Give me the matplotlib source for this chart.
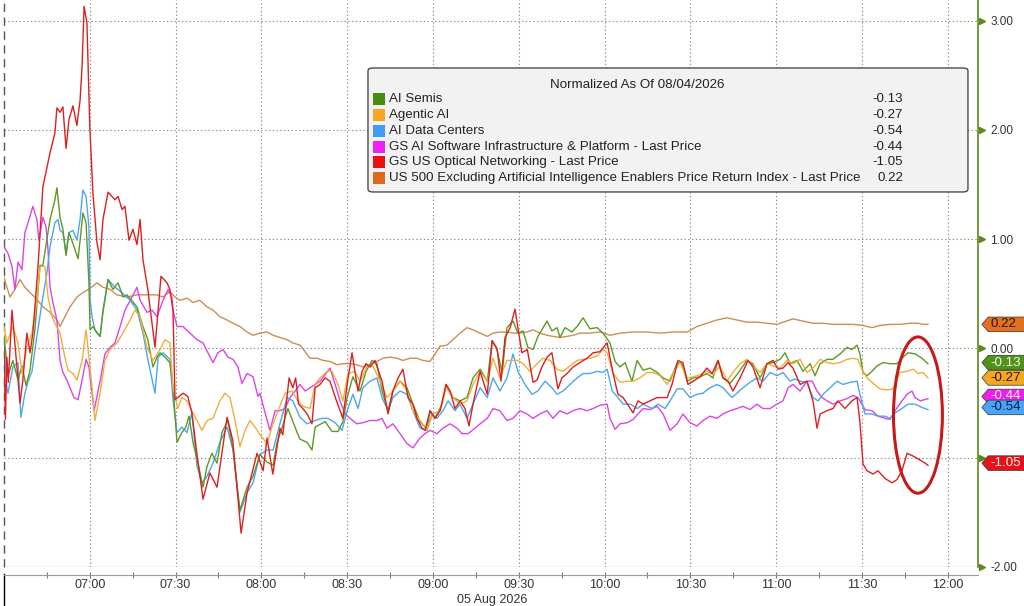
import numpy as np
import pandas as pd
import matplotlib
matplotlib.use("Agg")
import matplotlib.pyplot as plt
import matplotlib.dates as mdates
import matplotlib.transforms as mtransforms
from matplotlib.patches import Polygon, FancyBboxPatch, Rectangle, Ellipse

# minutes after 06:30 on 05 Aug 2026, and normalized values
semis_t = [0, 1.4, 3.1, 4.9, 6.3, 7.7, 9.1, 10.8, 12.6, 13.6,
           16.1, 17.8, 18.5, 19.6, 20.6, 21.7, 22.7, 24.1, 25.9, 26.9,
           27.6, 28.7, 29.7, 30.1, 31.1, 32.5, 33.6, 34.6, 36.4, 38.1,
           39.9, 41.6, 43, 46.5, 48.6, 50.3, 52.1, 53.5, 54.6, 56.3,
           58, 59.1, 60.5, 62.2, 63.6, 64.7, 66.1, 67.8, 69.6, 71,
           72.7, 74.5, 76.2, 78.3, 80.1, 82.5, 85, 87.1, 89.5, 92,
           94.1, 95.5, 97.2, 99.3, 102.5, 103.5, 106, 107.7, 108.8, 112.3,
           114.7, 116.8, 118.5, 120, 122, 124.5, 126.6, 128.7, 130.4, 132.2,
           134.3, 136, 138.5, 140.9, 143, 145.5, 147.9, 149, 150.7, 153.2,
           154.6, 157, 159.5, 161.9, 164, 166.5, 169, 170.7, 172.4, 174.2,
           175.9, 178, 179.7, 181.5, 183.2, 185, 186.7, 189.9, 191.6, 193.4,
           194.4, 196.2, 198.6, 200.7, 202.5, 204.9, 207.4, 209.5, 211.9, 213.7,
           215.4, 217.2, 219.6, 221.4, 223.5, 225.9, 228.4, 230.5, 232.9, 235.4,
           237.1, 238.9, 241, 243.4, 245.8, 247.9, 249.7, 251.4, 253.9, 256.3,
           259.8, 261.9, 264.4, 266.8, 268.9, 271.4, 273.1, 274.9, 277.3, 279.4,
           281.9, 283.6, 285.4, 287.8, 289.9, 292.4, 294.8, 296.5, 298.3, 299.3,
           300.4, 301.8, 303.5, 305.3, 307.4, 309.8, 312.3, 314, 316.1, 318.6,
           321, 323.1]
semis_v = [0.12, -0.25, -0.11, -0.29, -0.16, -0.34, -0.20, 0.17, 0.76, 0.76,
           1.18, 1.36, 1.47, 1.20, 1.09, 0.85, 1.06, 0.96, 0.82, 1.06,
           1.24, 1.15, 0.60, 0.17, 0.20, 0.14, 0.11, 0.33, 0.63, 0.54,
           0.60, 0.47, 0.49, 0.38, 0.20, 0.08, -0.17, -0.08, -0.04, -0.08,
           -0.13, -0.35, -0.86, -0.77, -0.72, -0.62, -0.86, -1.05, -1.27, -1.08,
           -0.96, -1.05, -0.77, -0.66, -0.93, -1.48, -1.27, -1.17, -0.97, -1.04,
           -1.07, -0.86, -0.73, -0.55, -0.77, -0.83, -0.86, -0.93, -0.72, -0.67,
           -0.76, -0.76, -0.67, -0.45, -0.26, -0.39, -0.21, -0.11, -0.14, -0.39,
           -0.57, -0.39, -0.30, -0.36, -0.51, -0.67, -0.74, -0.57, -0.64, -0.51,
           -0.33, -0.45, -0.48, -0.45, -0.27, -0.19, -0.30, 0.07, -0.01, -0.22,
           0.19, 0.25, 0.14, 0.16, 0.01, -0.01, 0.11, 0.25, 0.16, 0.19,
           0.10, 0.19, 0.15, 0.21, 0.28, 0.18, 0.19, 0.14, 0.05, -0.12,
           -0.17, -0.13, -0.30, -0.11, -0.20, -0.18, -0.22, -0.27, -0.30, -0.13,
           -0.14, -0.30, -0.27, -0.26, -0.23, -0.27, -0.11, -0.27, -0.32, -0.24,
           -0.11, -0.14, -0.27, -0.14, -0.13, -0.10, -0.04, -0.14, -0.11, -0.21,
           -0.14, -0.25, -0.14, -0.10, -0.10, -0.05, 0.01, -0.01, 0.03, -0.05,
           -0.22, -0.25, -0.21, -0.16, -0.13, -0.14, -0.14, -0.09, -0.04, -0.05,
           -0.09, -0.14]

agentic_t = [0, 1, 3.1, 4.9, 6.3, 8, 9.8, 11.5, 12.6, 14.3,
             15.4, 16.8, 17.8, 19.6, 21.3, 22.4, 24.1, 25.5, 27.3, 28.7,
             29.4, 30.8, 31.8, 33.6, 35.3, 37.1, 39.5, 41.6, 44.1, 45.8,
             47.6, 50, 52.1, 54.6, 56.3, 58, 59.1, 60.8, 62.2, 64,
             65.7, 67.5, 69.2, 71, 73.1, 75.5, 77.3, 79, 80.8, 82.5,
             84.3, 86, 87.8, 89.5, 92, 93.7, 95.8, 98.3, 100.7, 102.8,
             104.6, 107, 108.8, 110.5, 113, 114.7, 116.8, 118.5, 120.3, 122.7,
             124.5, 126.9, 129, 131.5, 133.9, 136, 138.5, 140.9, 143, 145.5,
             147.9, 150, 152.5, 154.6, 157, 159.5, 161.9, 164, 166.5, 169,
             171, 173.4, 175.9, 178, 179.7, 181.5, 183.9, 186.4, 188.5, 190.9,
             193.4, 195.5, 197.9, 200.4, 202.5, 204.9, 207.4, 209.5, 210.9, 213,
             215.4, 217.9, 220, 222.4, 224.9, 227, 229.4, 231.9, 234, 236.4,
             238.9, 241, 243.4, 245.8, 247.9, 250.4, 252.8, 254.9, 257.4, 259.8,
             261.9, 264.4, 266.8, 268.9, 271.4, 273.8, 275.9, 278.4, 280.8, 282.9,
             285.4, 287.8, 289.9, 292.4, 294.8, 296.9, 298.6, 300, 301.8, 303.9,
             306.3, 308.8, 310.9, 313.3, 315.8, 317.9, 319.6, 321.4, 323.1]
agentic_v = [0.20, 0.05, 0.20, 0.05, -0.23, 0.01, 0.14, 0.44, 0.75, 0.75,
             0.47, 0.29, 0.23, 0.14, -0.08, -0.20, -0.23, -0.29, -0.11, 0.17,
             -0.01, -0.36, -0.66, -0.41, -0.11, -0.01, 0.05, 0.14, 0.26, 0.35,
             0.29, 0.01, -0.11, -0.01, 0.08, 0.05, -0.36, -0.55, -0.45, -0.48,
             -0.57, -0.66, -0.75, -0.66, -0.64, -0.48, -0.41, -0.45, -0.66, -0.90,
             -0.75, -0.66, -0.72, -0.79, -0.87, -0.72, -0.57, -0.41, -0.39, -0.48,
             -0.53, -0.55, -0.33, -0.27, -0.21, -0.21, -0.33, -0.48, -0.23, -0.21,
             -0.30, -0.17, -0.16, -0.30, -0.45, -0.39, -0.30, -0.39, -0.57, -0.66,
             -0.74, -0.60, -0.57, -0.36, -0.45, -0.51, -0.48, -0.33, -0.21, -0.30,
             -0.09, -0.27, -0.11, -0.11, -0.11, -0.14, -0.21, -0.14, -0.09, -0.11,
             -0.19, -0.21, -0.16, -0.11, -0.10, -0.09, -0.07, -0.01, -0.04, -0.23,
             -0.31, -0.30, -0.30, -0.27, -0.22, -0.22, -0.25, -0.33, -0.22, -0.13,
             -0.27, -0.26, -0.24, -0.21, -0.24, -0.16, -0.30, -0.22, -0.14, -0.10,
             -0.16, -0.22, -0.14, -0.16, -0.18, -0.11, -0.14, -0.10, -0.22, -0.18,
             -0.10, -0.13, -0.14, -0.13, -0.10, -0.09, -0.10, -0.19, -0.27, -0.32,
             -0.37, -0.38, -0.37, -0.22, -0.21, -0.19, -0.23, -0.22, -0.27]

datacenter_t = [0, 1, 1.4, 3.1, 4.9, 5.9, 7.3, 8.4, 9.8, 11.5,
                13.3, 15, 16.1, 17.8, 18.9, 19.6, 20.6, 21.7, 22.7, 24.1,
                25.5, 26.6, 27.6, 28.7, 29.7, 30.1, 30.8, 31.8, 33.6, 34.6,
                36.4, 38.8, 41.3, 44.1, 46.5, 48.6, 50.3, 52.8, 53.9, 55.6,
                58, 59.1, 60.5, 62.2, 64, 65.7, 67.5, 69.2, 71, 73.1,
                75.5, 78, 80.1, 82.5, 85, 87.1, 89.5, 92, 94.1, 96.5,
                99, 101, 103.5, 106, 108.8, 111.2, 113.3, 115.8, 118.2, 120,
                122, 123.8, 125.5, 128, 130.4, 132.2, 134.3, 136, 138.5, 140.9,
                143, 145.5, 147.9, 149.7, 151.4, 153.5, 155.3, 157.7, 159.5, 161.9,
                164, 166.5, 169, 171, 173.4, 175.9, 178, 179.7, 182.2, 184.6,
                186.7, 189.2, 191.6, 193.4, 195.5, 197.9, 200.4, 202.5, 204.9, 207.4,
                209.5, 210.9, 212.7, 214.7, 216.5, 219, 221.4, 223.5, 226.6, 228.7,
                231.2, 232.9, 235.4, 237.4, 239.9, 242.3, 244.4, 246.9, 249.3, 251.4,
                254.6, 256.3, 258.4, 260.9, 263.3, 265.4, 267.9, 270.3, 272.4, 274.9,
                276.6, 278.4, 280.8, 282.9, 284.7, 286.4, 288.9, 291.3, 293.4, 295.9,
                298.3, 299.3, 301.1, 303.5, 305.6, 308.1, 309.8, 311.6, 314, 316.1,
                318.6, 321, 323.1]
datacenter_v = [0.08, -0.36, -0.41, -0.17, -0.13, -0.63, -0.41, -0.30, -0.21, 0.11,
                0.42, 0.69, 0.93, 1.15, 1.18, 1.08, 1.06, 0.87, 1.06, 1.08,
                0.99, 1.18, 1.45, 1.39, 1.11, 0.44, 0.29, 0.17, 0.11, 0.35,
                0.63, 0.56, 0.51, 0.44, 0.35, 0.14, -0.10, -0.41, -0.08, -0.04,
                -0.10, -0.47, -0.77, -0.72, -0.77, -0.59, -1.08, -1.23, -1.17, -1.05,
                -0.86, -0.72, -0.93, -1.50, -1.32, -1.23, -0.97, -0.93, -0.93, -0.69,
                -0.45, -0.48, -0.63, -0.69, -0.66, -0.64, -0.64, -0.68, -0.75, -0.57,
                -0.42, -0.55, -0.36, -0.30, -0.27, -0.45, -0.57, -0.45, -0.39, -0.42,
                -0.57, -0.73, -0.75, -0.60, -0.64, -0.57, -0.48, -0.57, -0.51, -0.64,
                -0.51, -0.36, -0.45, -0.27, -0.39, -0.27, -0.05, -0.21, -0.33, -0.42,
                -0.39, -0.30, -0.36, -0.42, -0.39, -0.33, -0.27, -0.23, -0.23, -0.21,
                -0.22, -0.19, -0.39, -0.45, -0.51, -0.51, -0.55, -0.51, -0.55, -0.51,
                -0.55, -0.48, -0.37, -0.37, -0.45, -0.42, -0.41, -0.36, -0.33, -0.36,
                -0.45, -0.41, -0.36, -0.31, -0.27, -0.30, -0.22, -0.25, -0.22, -0.30,
                -0.28, -0.30, -0.31, -0.45, -0.48, -0.42, -0.36, -0.30, -0.33, -0.31,
                -0.30, -0.42, -0.60, -0.60, -0.62, -0.62, -0.64, -0.59, -0.55, -0.51,
                -0.51, -0.54, -0.56]

software_t = [0, 1.4, 2.8, 3.8, 4.9, 6.3, 7.3, 8.4, 10.1, 11.5,
              12.2, 13.6, 14.7, 15.4, 16.1, 17.1, 18.5, 19.6, 20.6, 22,
              23.1, 24.5, 25.9, 27.3, 28.7, 29.7, 31.5, 33.6, 35.3, 37.1,
              38.8, 40.6, 42.3, 44.8, 46.5, 47.6, 50, 51.8, 53.5, 55.6,
              57.4, 58.7, 59.1, 60.5, 62.6, 65, 67.5, 69.6, 71.3, 73.1,
              74.8, 76.6, 78.3, 80.1, 81.8, 83.2, 85, 87.1, 88.8, 89.5,
              91.3, 93, 94.8, 96.5, 98.3, 100, 101.8, 103.5, 105.3, 107,
              108.8, 110.5, 112.3, 114, 115.8, 117.5, 119.3, 121, 123.4, 125.5,
              128, 130.4, 132.2, 133.9, 136, 138.5, 140.9, 143, 145.5, 147.2,
              149, 151.4, 153.5, 156, 158.4, 160.2, 162.3, 164.7, 166.5, 169,
              171, 173.4, 175.9, 178, 180.4, 182.9, 185, 187.4, 189.9, 192,
              194.4, 196.9, 199, 201.4, 203.9, 206, 208.4, 210.9, 211.9, 213.7,
              215.4, 217.9, 220, 221.7, 223.5, 225.9, 228.4, 230.5, 232.9, 235.4,
              237.4, 239.9, 242.3, 244.4, 246.9, 249.3, 251.4, 253.9, 256.3, 258.4,
              260.9, 263.3, 265.4, 267.9, 270.3, 272.4, 274.2, 275.9, 278.4, 280.8,
              282.6, 284.3, 286.1, 287.8, 289.9, 292.4, 294.8, 296.9, 298.6, 300,
              301.1, 303.5, 305.6, 308.1, 309.8, 311.6, 314, 315.8, 317.5, 318.6,
              320.4, 323.1]
software_v = [0.93, 0.87, 0.75, 0.54, 0.79, 0.72, 1.06, 1.15, 1.30, 1.18,
              0.99, 1.20, 1.11, 0.90, 0.56, 0.42, 0.26, -0.11, -0.22, -0.29,
              -0.36, -0.45, -0.47, -0.29, -0.10, -0.17, -0.57, -0.30, -0.05, 0.01,
              0.05, 0.20, 0.35, 0.47, 0.56, 0.44, 0.33, 0.35, 0.29, 0.44,
              0.54, 0.47, 0.35, 0.20, 0.20, 0.14, 0.08, 0.05, -0.04, -0.13,
              -0.04, -0.01, -0.08, -0.10, -0.17, -0.32, -0.23, -0.26, -0.44, -0.41,
              -0.59, -0.75, -0.57, -0.57, -0.55, -0.45, -0.39, -0.33, -0.39, -0.36,
              -0.33, -0.30, -0.24, -0.18, -0.33, -0.48, -0.60, -0.64, -0.69, -0.68,
              -0.66, -0.66, -0.64, -0.73, -0.69, -0.78, -0.87, -0.91, -0.82, -0.78,
              -0.75, -0.78, -0.73, -0.69, -0.73, -0.78, -0.78, -0.73, -0.69, -0.64,
              -0.55, -0.57, -0.66, -0.64, -0.57, -0.60, -0.64, -0.60, -0.57, -0.64,
              -0.57, -0.60, -0.57, -0.55, -0.57, -0.55, -0.52, -0.51, -0.64, -0.74,
              -0.69, -0.68, -0.65, -0.60, -0.55, -0.56, -0.53, -0.60, -0.75, -0.69,
              -0.60, -0.68, -0.71, -0.66, -0.62, -0.64, -0.60, -0.57, -0.55, -0.53,
              -0.56, -0.51, -0.55, -0.55, -0.51, -0.48, -0.36, -0.33, -0.39, -0.30,
              -0.30, -0.39, -0.45, -0.48, -0.51, -0.48, -0.46, -0.43, -0.45, -0.51,
              -0.56, -0.57, -0.62, -0.64, -0.65, -0.57, -0.48, -0.42, -0.39, -0.45,
              -0.48, -0.46]

optical_t = [0, 0.5, 1, 1.5, 2.8, 3.8, 5.6, 6.6, 8, 9.1,
             10.1, 11.9, 13.6, 16.1, 17.8, 18.5, 19.6, 20.6, 21.7, 22.7,
             24.1, 25.5, 26.6, 27.3, 28, 29, 30, 31.1, 32.5, 33.6,
             34.6, 36.4, 38.8, 39.9, 41.3, 42.3, 43.7, 45.1, 46.5, 47.6,
             48.6, 50.3, 52.8, 54.9, 57, 58, 59.1, 59.8, 62.6, 64.3,
             65.7, 67.5, 69.6, 72, 74.5, 78, 80, 82.9, 85, 88.5,
             90.6, 92, 94, 96.5, 97.5, 99.7, 101, 102, 103, 104.5,
             106, 107.7, 108.8, 110.5, 112.3, 114, 116, 118.5, 120, 121.7,
             122.7, 123.8, 125.2, 126.6, 128, 129.7, 132.2, 134.3, 136, 137.8,
             139.5, 141.3, 143, 144.4, 146.2, 147.2, 149, 150.7, 152.5, 154.6,
             156, 157.7, 159.5, 161.2, 162.6, 164, 166.5, 169, 170.7, 172.4,
             173.8, 175.2, 177, 178.7, 179.7, 181.1, 183, 185, 186.4, 188.1,
             189.9, 191.6, 193.7, 195.1, 196.9, 199, 201.4, 203.9, 206, 208.4,
             210.9, 213, 214.7, 216.5, 220, 221.7, 223.5, 225.9, 228.4, 231.9,
             233.6, 235.7, 237.4, 239.2, 241, 243.4, 245.8, 247.6, 249.7, 251.4,
             253.2, 254.9, 257.4, 260.2, 261.9, 264.4, 266.8, 268.9, 270.7, 272.4,
             274.2, 275.9, 278.4, 280.8, 282.9, 284.3, 285.4, 287.8, 289.9, 291.6,
             294.1, 296.5, 298.3, 299.3, 300.4, 301.8, 303.9, 305.6, 308.1, 310.5,
             312.3, 314, 315.8, 317.5, 319.6, 322.1, 323.1]
optical_v = [0.01, -0.65, -0.08, -0.31, 0.35, 0.05, -0.50, -0.29, 0.14, -0.04,
             0.14, 0.75, 1.48, 1.79, 1.97, 2.20, 2.16, 2.21, 1.83, 2.09,
             2.22, 2.04, 2.27, 2.58, 3.13, 2.98, 2.03, 1.42, 0.97, 0.81,
             1.18, 1.43, 1.36, 1.39, 1.27, 1.30, 0.99, 1.09, 0.95, 1.18,
             0.81, 0.54, 0.01, 0.66, 0.60, 0.54, 0.35, -0.47, -0.41, -0.44,
             -0.59, -0.97, -1.38, -1.14, -1.27, -0.63, -0.84, -1.69, -1.32, -0.96,
             -1.12, -0.82, -1.15, -0.73, -0.79, -0.27, -0.36, -0.27, -0.51, -0.55,
             -0.60, -0.69, -0.36, -0.33, -0.27, -0.30, -0.46, -0.64, -0.33, -0.04,
             -0.21, -0.39, -0.21, -0.14, -0.17, -0.11, -0.30, -0.60, -0.39, -0.27,
             -0.19, -0.45, -0.51, -0.64, -0.73, -0.75, -0.57, -0.64, -0.57, -0.33,
             -0.39, -0.55, -0.48, -0.55, -0.71, -0.51, -0.21, -0.42, 0.07, 0.00,
             -0.30, 0.10, 0.19, 0.36, 0.19, -0.04, -0.01, -0.31, -0.29, -0.17,
             -0.08, -0.04, -0.37, -0.27, -0.23, -0.17, -0.13, -0.09, -0.04, -0.03,
             0.05, -0.23, -0.42, -0.45, -0.59, -0.48, -0.51, -0.48, -0.45, -0.45,
             -0.33, -0.11, -0.13, -0.33, -0.30, -0.26, -0.18, -0.23, -0.11, -0.27,
             -0.30, -0.39, -0.27, -0.11, -0.17, -0.36, -0.14, -0.11, -0.19, -0.18,
             -0.13, -0.18, -0.33, -0.30, -0.48, -0.73, -0.60, -0.57, -0.55, -0.48,
             -0.55, -0.48, -0.45, -0.67, -1.06, -1.12, -1.15, -1.12, -1.19, -1.23,
             -1.20, -1.12, -0.96, -0.98, -1.01, -1.05, -1.07]

us500_t = [0, 1, 2.1, 3.8, 5.6, 7.3, 9.1, 11.5, 13.6, 16.1,
           18.5, 19.6, 21.3, 23.1, 25.5, 27.6, 30.1, 32.5, 34.6, 37.1,
           39.5, 43, 46.5, 50, 53.5, 55.6, 58, 59.8, 61.5, 64,
           66.1, 68.5, 71, 73.1, 75.5, 78, 80.1, 82.5, 85, 87.1,
           89.5, 92, 94.1, 96.5, 99, 101, 103.5, 105.3, 107, 109.5,
           111.6, 114, 116.5, 118.5, 121, 123.4, 125.5, 128, 130.4, 132.5,
           135, 137.4, 139.5, 142, 144.4, 146.5, 149, 150, 152.5, 154.9,
           157, 159.5, 161.9, 164, 166.5, 169, 171, 173.4, 175.9, 178,
           180.4, 182.9, 185, 187.4, 189.9, 192, 194.4, 196.9, 199, 201.4,
           204.9, 208.4, 211.9, 215.4, 220, 224.9, 229.4, 234, 238.9, 242.3,
           245.8, 249.3, 252.8, 256.3, 259.8, 263.3, 266.8, 270.3, 272.4, 275.9,
           279.4, 282.9, 286.4, 289.9, 293.4, 296.9, 300.4, 303.5, 306.3, 309.8,
           313.3, 316.8, 319.6, 321.4, 323.1]
us500_v = [0.65, 0.56, 0.47, 0.54, 0.63, 0.56, 0.51, 0.45, 0.38, 0.33,
           0.26, 0.20, 0.29, 0.38, 0.47, 0.51, 0.55, 0.60, 0.56, 0.54,
           0.49, 0.47, 0.49, 0.49, 0.49, 0.47, 0.52, 0.47, 0.44, 0.46,
           0.42, 0.44, 0.38, 0.35, 0.29, 0.26, 0.23, 0.20, 0.15, 0.12,
           0.14, 0.15, 0.12, 0.10, 0.08, 0.05, 0.03, -0.03, -0.09, -0.09,
           -0.11, -0.12, -0.15, -0.14, -0.14, -0.15, -0.17, -0.15, -0.12, -0.09,
           -0.08, -0.09, -0.11, -0.09, -0.09, -0.11, -0.12, -0.08, 0.02, 0.03,
           0.08, 0.14, 0.19, 0.17, 0.14, 0.11, 0.14, 0.15, 0.15, 0.14,
           0.14, 0.15, 0.17, 0.14, 0.12, 0.11, 0.10, 0.11, 0.12, 0.14,
           0.14, 0.15, 0.12, 0.14, 0.15, 0.15, 0.14, 0.15, 0.15, 0.20,
           0.23, 0.26, 0.28, 0.26, 0.24, 0.24, 0.23, 0.22, 0.24, 0.27,
           0.25, 0.23, 0.23, 0.22, 0.22, 0.22, 0.21, 0.19, 0.21, 0.22,
           0.22, 0.23, 0.23, 0.22, 0.22]

names = ["AI Semis", "Agentic AI", "AI Data Centers",
         "GS AI Software Infrastructure & Platform - Last Price",
         "GS US Optical Networking - Last Price",
         "US 500 Excluding Artificial Intelligence Enablers Price Return Index - Last Price"]
last_values = [-0.13, -0.27, -0.54, -0.44, -1.05, 0.22]
tick_labels = ["07:00", "07:30", "08:00", "08:30", "09:00", "09:30",
               "10:00", "10:30", "11:00", "11:30", "12:00"]
y_ticks = [-2, -1, 0, 1, 2, 3]

plt.rcParams['font.family'] = ['Liberation Sans', 'DejaVu Sans']
plt.rcParams['axes.unicode_minus'] = False

line_cols = ['#5c9a24', '#f0ae3c', '#4ea6ee', '#dc44e4', '#dc2020', '#cf8d52']
box_cols = ['#4a8c10', '#f7a823', '#3e9cf2', '#f020f0', '#e81010', '#e0681c']
tag_cols = ['#4f9418', '#f5a623', '#48a4f8', '#ee1fee', '#e8101a', '#e3701e']
tag_text = ['#f4f4f4', '#2a1a00', '#0a1a40', '#f4f4f4', '#f4f4f4', '#2b1400']

base = pd.Timestamp("2026-08-05 06:30")
def when(mins):
    return (base + pd.to_timedelta(mins, unit="m")).values

fig = plt.figure(figsize=(10.24, 6.06), dpi=100)
ax = fig.add_axes([4 / 1024, 0.0644, 974 / 1024, 0.9356])

series = [(semis_t, semis_v), (agentic_t, agentic_v), (datacenter_t, datacenter_v),
          (software_t, software_v), (optical_t, optical_v), (us500_t, us500_v)]
draw_order = [5, 3, 2, 0, 1, 4]
for n, i in enumerate(draw_order):
    t, v = series[i]
    ax.plot(when(t), v, color=line_cols[i], lw=1.0, zorder=3 + n * 0.1)

ax.set_xlim(base.to_pydatetime(), (base + pd.Timedelta(minutes=340.6)).to_pydatetime())
ax.set_ylim(-2.0, 3.188)

tick_pos = [pd.Timestamp("2026-08-05 " + s).to_pydatetime() for s in tick_labels]
ax.set_xticks(tick_pos)
ax.set_xticklabels(tick_labels)
ax.xaxis.set_minor_locator(mdates.MinuteLocator(byminute=[15, 45]))
ax.tick_params(axis='x', which='both', length=5, width=0.8, color='#777777',
               direction='inout', pad=0.5, labelsize=9, labelcolor='#333333')

ax.yaxis.tick_right()
ax.set_yticks(y_ticks)
ax.set_yticklabels(["" if y == -1 else "%.2f" % y for y in y_ticks])
ax.tick_params(axis='y', length=0, pad=9, labelsize=8.5, labelcolor='#333333')

for s in ['top', 'left']:
    ax.spines[s].set_visible(False)
ax.spines['bottom'].set_position(('outward', 6))
ax.spines['bottom'].set_color('#999999')
ax.spines['bottom'].set_linewidth(0.8)
ax.spines['right'].set_color('#5a8a1a')
ax.spines['right'].set_linewidth(1.2)
ax.spines['right'].set_bounds(-2.0, 3.188)

dots = (0, (1.2, 2.2))
ax.grid(axis='both', which='major', color='#8a8a8a', lw=0.8, ls=dots)
ax.axhline(-2.0, color='#999999', lw=1.0, ls=(0, (1, 1)), zorder=2)

# session start line
ax.axvline(base.to_pydatetime(), color='#555555', lw=1.0, ls=(0, (6, 4)), clip_on=False, zorder=2)
bt = mtransforms.blended_transform_factory(ax.transData, ax.transAxes)
ax.plot([base.to_pydatetime()] * 2, [-0.012, -0.075], color='black', lw=1.0,
        transform=bt, clip_on=False)
ax.text(0.5015, -0.0590, "05 Aug 2026", transform=ax.transAxes, ha='center', va='center',
        fontsize=9, color='#333333')

# right axis markers
rt = mtransforms.blended_transform_factory(ax.transAxes, ax.transData)
ax.plot([1.004] * len(y_ticks), y_ticks, ls='none', marker='>', ms=4, color='#5a8a1a',
        transform=rt, clip_on=False, zorder=4)

# value tags
h = 0.067
for i in sorted(range(6), key=lambda j: -last_values[j]):
    y = last_values[i]
    pts = [(1.004, y), (1.0105, y + h), (1.06, y + h), (1.06, y - h), (1.0105, y - h)]
    ax.add_patch(Polygon(pts, closed=True, transform=rt, clip_on=False,
                         fc=tag_cols[i], ec='#333333', lw=0.5, zorder=8))
    ax.text(1.0130, y, "%.2f" % y, transform=rt, ha='left', va='center',
            fontsize=9.6, color=tag_text[i], zorder=9, clip_on=False)

# legend box
ax.add_patch(FancyBboxPatch((0.3737, 0.6614), 0.616, 0.2187, transform=ax.transAxes,
                            boxstyle="round,pad=0,rounding_size=0.005",
                            fc='#f2f2f2', ec='#3a3a3a', lw=0.9, zorder=6))
ax.text(0.650, 0.850, "Normalized As Of 08/04/2026", transform=ax.transAxes,
        ha='center', va='center', fontsize=9.6, color='#222222', zorder=7)
row_y = [0.8254, 0.7972, 0.7690, 0.7407, 0.7143, 0.6861]
for i in range(6):
    ax.add_patch(Rectangle((0.3789, row_y[i] - 0.0105), 0.0123, 0.021,
                           transform=ax.transAxes, fc=box_cols[i], ec='none', zorder=7))
    ax.text(0.3955, row_y[i], names[i], transform=ax.transAxes, ha='left', va='center',
            fontsize=9.6, color='#222222', zorder=7)
    ax.text(0.9230, row_y[i], "%.2f" % last_values[i], transform=ax.transAxes,
            ha='right', va='center', fontsize=9.6, color='#222222', zorder=7)

# highlight ellipse around the final stretch
cx = mdates.date2num((base + pd.Timedelta(minutes=319.6)).to_pydatetime())
ax.add_patch(Ellipse((cx, -0.61), width=17.1 / 1440, height=1.43, fill=False,
                     ec='#c41a1a', lw=2.2, zorder=7))

fig.savefig("out.png", dpi=100)
